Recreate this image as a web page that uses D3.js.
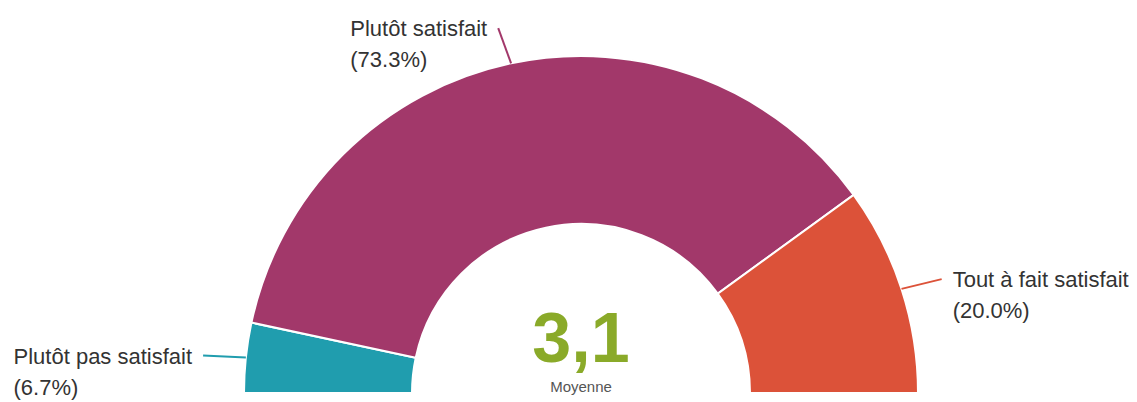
<!DOCTYPE html>
<html>
<head>
<meta charset="utf-8">
<script src="https://cdn.jsdelivr.net/npm/d3@7"></script>
<style>
  html, body { margin: 0; padding: 0; background: #fff; }
  svg { display: block; font-family: "Liberation Sans", Arial, sans-serif; }
</style>
</head>
<body>
<svg id="chart" width="1137" height="402"></svg>
<script>
// data
var categories = ['Plutôt pas satisfait', 'Plutôt satisfait', 'Tout à fait satisfait']
var percents = [6.7, 73.3, 20.0]
var colors = ['#209dae', '#a2386a', '#dc5239']
var average = '3,1'
var averageLabel = 'Moyenne'

var width = 1137, height = 402
var cx = 581, cy = 393
var outerR = 337, innerR = 169

var svg = d3.select('#chart')
var g = svg.append('g').attr('transform', 'translate(' + cx + ',' + cy + ')')

var data = categories.map(function (c, i) {
  return { name: c, value: percents[i], color: colors[i] }
})

var pie = d3.pie()
  .sort(null)
  .value(function (d) { return d.value })
  .startAngle(-Math.PI / 2)
  .endAngle(Math.PI / 2)

var arc = d3.arc().innerRadius(innerR).outerRadius(outerR)

var slices = pie(data)

g.selectAll('path.slice')
  .data(slices)
  .enter().append('path')
  .attr('class', 'slice')
  .attr('d', arc)
  .style('fill', function (d) { return d.data.color })
  .style('stroke', '#fff')
  .style('stroke-width', 2)

// connector lines + labels
function polar (r, a) {
  return [r * Math.sin(a), -r * Math.cos(a)]
}

slices.forEach(function (d) {
  var mid = (d.startAngle + d.endAngle) / 2
  var p0 = polar(outerR, mid)
  var p1 = polar(outerR + 38, mid)
  var right = p1[0] > 0
  // nudge the connector end a little away from the centre line
  p1[0] += right ? 4 : -5
  p1[1] += 2

  g.append('line')
    .attr('x1', p0[0]).attr('y1', p0[1])
    .attr('x2', p1[0]).attr('y2', p1[1])
    .style('stroke', d.data.color)
    .style('stroke-width', 2)

  var lbl = g.append('text')
    .style('font-size', '22px')
    .style('fill', '#333')

  lbl.append('tspan').text(d.data.name)
  var w = lbl.node().getComputedTextLength()
  var x = right ? p1[0] + 11 : p1[0] - 11 - w

  lbl.select('tspan').attr('x', x).attr('y', p1[1] + 8)
  lbl.append('tspan')
    .attr('x', x)
    .attr('y', p1[1] + 39)
    .text('(' + d.data.value.toFixed(1) + '%)')
})

// center value
g.append('text')
  .attr('x', 0).attr('y', -31)
  .attr('text-anchor', 'middle')
  .style('font-size', '70px')
  .style('font-weight', 'bold')
  .style('fill', '#8aaa29')
  .text(average)

g.append('text')
  .attr('x', 0).attr('y', -1)
  .attr('text-anchor', 'middle')
  .style('font-size', '15px')
  .style('fill', '#555')
  .text(averageLabel)
</script>
</body>
</html>
